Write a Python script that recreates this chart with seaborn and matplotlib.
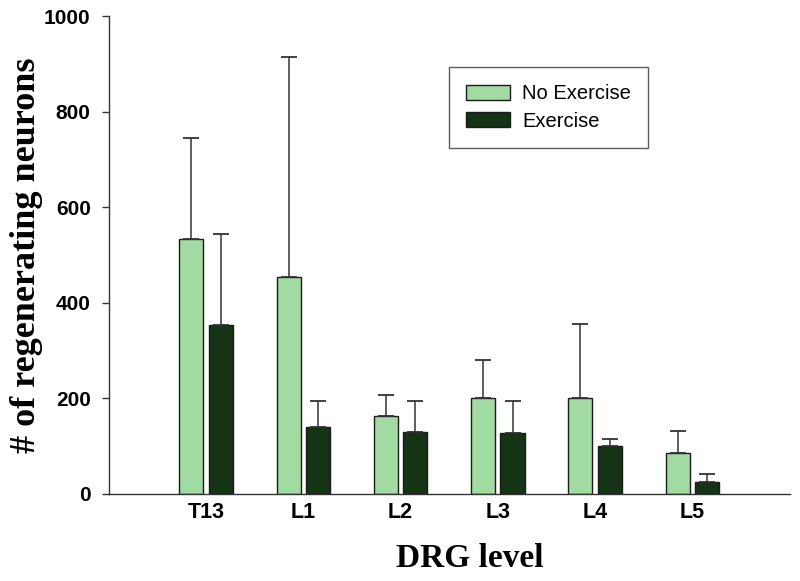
import numpy as np
import pandas as pd
import matplotlib
matplotlib.use("Agg")
import matplotlib.pyplot as plt
import seaborn as sns

# ==============================
# Data
# ==============================
levels = ["T13", "L1", "L2", "L3", "L4", "L5"]
groups = ["No Exercise", "Exercise"]
no_exercise_mean = [533, 454, 162, 200, 201, 86]
no_exercise_err = [212, 461, 46, 80, 155, 46]
exercise_mean = [353, 141, 130, 128, 101, 25]
exercise_err = [191, 54, 65, 67, 13, 16]

colors = ["#a1dba1", "#153416"]

df = pd.DataFrame({
    "level": levels * 2,
    "group": [groups[0]] * len(levels) + [groups[1]] * len(levels),
    "count": no_exercise_mean + exercise_mean,
})

sns.set_style("white")
plt.rcParams["font.family"] = ["Liberation Sans", "DejaVu Sans"]
plt.rcParams["text.color"] = "black"
plt.rcParams["axes.labelcolor"] = "black"
plt.rcParams["xtick.color"] = "black"
plt.rcParams["ytick.color"] = "black"

fig = plt.figure(figsize=(8, 5.81), dpi=100)
ax = fig.add_axes([0.136, 0.150, 0.851, 0.822])

sns.barplot(
    data=df, x="level", y="count", hue="group", order=levels,
    hue_order=groups, palette=colors, saturation=1, width=0.605, gap=0.18,
    errorbar=None, edgecolor="#1a1a1a", linewidth=1.0, ax=ax,
)

# upper-only error bars on top of each bar
errs = {groups[0]: no_exercise_err, groups[1]: exercise_err}
for container, g in zip(ax.containers, groups):
    for patch, e in zip(container.patches, errs[g]):
        xc = patch.get_x() + patch.get_width() / 2
        h = patch.get_height()
        ax.errorbar(xc, h, yerr=[[0], [e]], fmt="none", ecolor="#333333",
                    elinewidth=1.1, capsize=5.5, capthick=1.3, zorder=1)

ax.set_xlim(-1, 6)
ax.set_ylim(0, 1000)
ax.set_yticks([0, 200, 400, 600, 800, 1000])

for side in ["top", "right"]:
    ax.spines[side].set_visible(False)
for side in ["left", "bottom"]:
    ax.spines[side].set_color("#333333")
    ax.spines[side].set_linewidth(1.0)

ax.tick_params(axis="y", left=True, length=5, width=1, color="#333333",
               labelsize=15, pad=8, labelcolor="black")
ax.tick_params(axis="x", bottom=False, length=0, labelsize=15.5, pad=6,
               labelcolor="black")
for lab in ax.get_xticklabels() + ax.get_yticklabels():
    lab.set_fontweight("bold")

ax.set_xlabel("DRG level", fontsize=24, fontweight="bold", color="black",
              family=["Liberation Serif", "DejaVu Serif"])
ax.set_ylabel("# of regenerating neurons", fontsize=26, fontweight="bold",
              color="black", family=["Liberation Serif", "DejaVu Serif"],
              labelpad=1)
ax.xaxis.set_label_coords((470 - 109) / 681, -0.102)

handles, labels = ax.get_legend_handles_labels()
leg = ax.legend(
    handles, labels, loc="upper left", bbox_to_anchor=(0.499, 0.893),
    borderaxespad=0, frameon=True, fancybox=False, fontsize=14.5,
    handlelength=2.2, handleheight=0.75, handletextpad=0.6,
    labelspacing=0.4, borderpad=0.85,
)
leg.get_frame().set_edgecolor("#333333")
leg.get_frame().set_linewidth(1.0)
for t in leg.get_texts():
    t.set_color("black")

fig.savefig("out.png", dpi=100)
